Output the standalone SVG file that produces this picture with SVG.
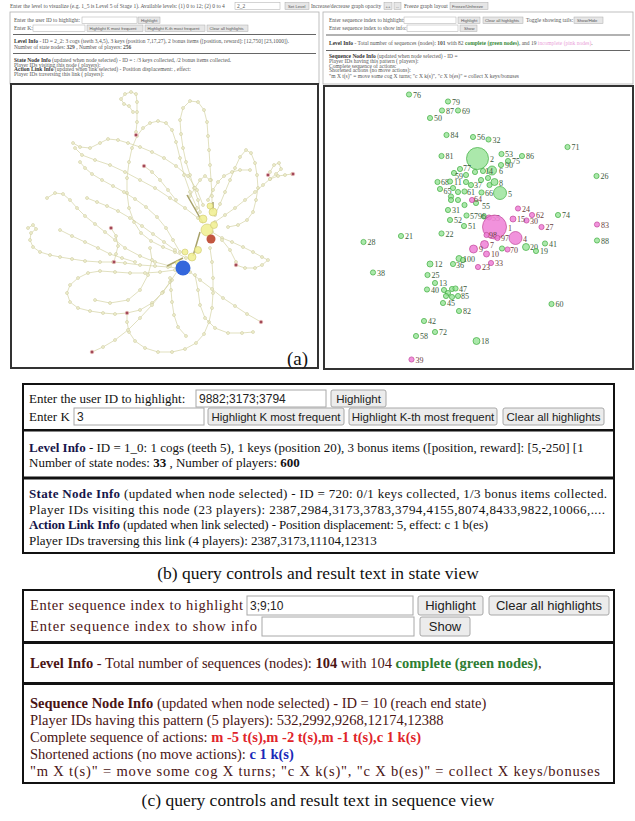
<svg xmlns="http://www.w3.org/2000/svg" width="635" height="821" viewBox="0 0 635 821">
<defs>
<style>
.tp{font-family:"Liberation Serif",serif;font-size:5.5px;fill:#555}
.tpb{font-family:"Liberation Sans",sans-serif;font-size:4.2px;fill:#555}
.b{font-weight:bold}
.ib{fill:#fff;stroke:#aaa;stroke-width:0.5}
.bb{fill:#e6e6e6;stroke:#aaa;stroke-width:0.5}
.pb{font-family:"Liberation Serif",serif;font-size:13px;fill:#111}
.pc{font-family:"Liberation Serif",serif;font-size:14.5px;fill:#4a1414}
.btn{fill:#ececec;stroke:#a8a8a8;stroke-width:1}
.inp{fill:#fff;stroke:#a8a8a8;stroke-width:1}
.bt{font-family:"Liberation Sans",sans-serif;font-size:11.5px;fill:#222;text-anchor:middle}
.bt2{font-family:"Liberation Sans",sans-serif;font-size:13px;fill:#222;text-anchor:middle}
.it{font-family:"Liberation Sans",sans-serif;font-size:12px;fill:#222}
.cap{font-family:"Liberation Serif",serif;font-size:17.5px;fill:#111;text-anchor:middle}
#edgesA polyline{fill:none;stroke:#d4d2a4;stroke-width:0.7;marker-start:url(#dot);marker-mid:url(#dot);marker-end:url(#dot)}
.thick{fill:none;stroke:#a8a26a;stroke-width:1.5}
.rd{fill:#a24858;stroke:#f4c8c8;stroke-width:0.6}
.yn{fill:#f1ef96;stroke:#cfc770;stroke-width:0.6;fill-opacity:0.9}
.g circle{fill:#8fe08f;fill-opacity:0.75;stroke:#3fae3f;stroke-width:0.7}
.p circle{fill:#ef7fd6;fill-opacity:0.85;stroke:#c0489a;stroke-width:0.7}
.g text,.p text{font-family:"Liberation Serif",serif;font-size:8px}
.g text{fill:#3c5a3c}
.p text{fill:#6a4040}
</style>
<marker id="dot" markerWidth="4" markerHeight="4" refX="2" refY="2" markerUnits="userSpaceOnUse" overflow="visible"><circle cx="2" cy="2" r="1.5" fill="#efefce" stroke="#c6c497" stroke-width="0.5"/></marker>
<clipPath id="clipB"><rect x="23" y="384" width="590" height="169"/></clipPath>
<clipPath id="clipC"><rect x="23" y="590" width="590" height="193"/></clipPath>
</defs>
<rect width="635" height="821" fill="#fff"/>

<!-- top strip -->
<g id="topbar">
<text class="tp" x="10" y="7.5">Enter the level to visualize (e.g. 1_5 is Level 5 of Stage 1). Available levels: (1) 0 to 12; (2) 0 to 4</text>
<rect class="ib" x="235" y="2.5" width="45" height="7"/><text class="tp" x="237" y="7.8">2_2</text>
<rect class="bb" x="285" y="2.5" width="24" height="7"/><text class="tpb" x="288" y="7.6">Set Level</text>
<text class="tp" x="311" y="7.5">Increase/decrease graph opacity</text>
<rect class="bb" x="384" y="2.5" width="8" height="7"/><text class="tpb" x="385.5" y="7.6">++</text>
<rect class="bb" x="394" y="2.5" width="7" height="7"/><text class="tpb" x="396" y="7.6">--</text>
<text class="tp" x="404" y="7.5">Freeze graph layout</text>
<rect class="bb" x="450" y="2.5" width="38" height="7"/><text class="tpb" x="452" y="7.6">Freeze/Unfreeze</text>
</g>

<!-- left control panel -->
<g id="ctrlA">
<rect x="10" y="12" width="309" height="72" fill="#fff" stroke="#b0b0b0" stroke-width="0.8"/>
<text class="tp" x="14" y="22">Enter the user ID to highlight:</text>
<rect class="ib" x="82" y="17" width="55" height="6.5"/>
<rect class="bb" x="138" y="17" width="22" height="6.5"/><text class="tpb" x="141" y="21.7">Highlight</text>
<text class="tp" x="14" y="30">Enter K:</text>
<rect class="ib" x="33" y="25" width="52" height="6.5"/>
<rect class="bb" x="87" y="25" width="56" height="6.5"/><text class="tpb" x="89.5" y="29.7">Highlight K most frequent</text>
<rect class="bb" x="145" y="25" width="60" height="6.5"/><text class="tpb" x="147.5" y="29.7">Highlight K-th most frequent</text>
<rect class="bb" x="207" y="25" width="41" height="6.5"/><text class="tpb" x="209.5" y="29.7">Clear all highlights</text>
<rect x="13" y="34" width="303" height="1" fill="#666"/>
<text class="tp" x="14" y="43"><tspan class="b" fill="#333">Level Info</tspan> - ID = 2_2: 3 cogs (teeth 3,4,5), 3 keys (position 7,17,27), 2 bonus items ([position, reward]: [12,750] [23,1000]).</text>
<text class="tp" x="14" y="48.5">Number of state nodes: <tspan class="b">329</tspan> , Number of players: <tspan class="b">256</tspan></text>
<rect x="13" y="53" width="303" height="1" fill="#666"/>
<text class="tp" x="14" y="61.5"><tspan class="b" fill="#333">State Node Info</tspan> (updated when node selected) - ID = : /3 keys collected, /2 bonus items collected.</text>
<text class="tp" x="14" y="66.5">Player IDs visiting this node ( players):</text>
<text class="tp" x="14" y="71"><tspan class="b" fill="#333">Action Link Info</tspan> (updated when link selected) - Position displacement: , effect:</text>
<text class="tp" x="14" y="75.5">Player IDs traversing this link ( players):</text>
</g>

<!-- right control panel -->
<g id="ctrlR">
<rect x="323" y="12" width="310" height="72" fill="#fff" stroke="#b0b0b0" stroke-width="0.8"/>
<text class="tp" x="329" y="22">Enter sequence index to highlight:</text>
<rect class="ib" x="404" y="17" width="52" height="6.5"/>
<rect class="bb" x="458" y="17" width="22" height="6.5"/><text class="tpb" x="461" y="21.7">Highlight</text>
<rect class="bb" x="483" y="17" width="40" height="6.5"/><text class="tpb" x="485" y="21.7">Clear all highlights</text>
<text class="tp" x="526" y="22">Toggle showing tails:</text>
<rect class="bb" x="574" y="17" width="29" height="6.5"/><text class="tpb" x="577" y="21.7">Show/Hide</text>
<text class="tp" x="329" y="30">Enter sequence index to show info:</text>
<rect class="ib" x="407" y="25" width="51" height="6.5"/>
<rect class="bb" x="460" y="25" width="17" height="6.5"/><text class="tpb" x="464" y="29.7">Show</text>
<rect x="326" y="34.5" width="304" height="1" fill="#666"/>
<text class="tp" x="329" y="44.5"><tspan class="b" fill="#333">Level Info</tspan> - Total number of sequences (nodes): <tspan class="b">101</tspan> with 82 <tspan class="b" fill="#3a8a3a">complete (green nodes)</tspan>, and 19 <tspan fill="#eaa0d8">incomplete (pink nodes)</tspan>.</text>
<rect x="326" y="50" width="304" height="1" fill="#666"/>
<text class="tp" x="329" y="58"><tspan class="b" fill="#333">Sequence Node Info</tspan> (updated when node selected) - ID =</text>
<text class="tp" x="329" y="62.8">Player IDs having this pattern ( players):</text>
<text class="tp" x="329" y="67.6">Complete sequence of actions:</text>
<text class="tp" x="329" y="72.4">Shortened actions (no move actions):</text>
<text class="tp" x="329" y="77.5">"m X t(s)" = move some cog X turns; "c X k(s)", "c X b(es)" = collect X keys/bonuses</text>
</g>

<!-- (a) state graph -->
<g id="graphA">
<rect x="11" y="84" width="307" height="284" fill="#fff" stroke="#333" stroke-width="2"/>
<g id="edgesA">
<polyline points="200,212 198,200 194,188 190,175 186,162 183,148 181,134 180,120 183,108 190,101 198,102 204,110 207,122 208,136 209,150 210,165 211,180 212,196 212,210"/>
<polyline points="136,132 137,122 137,112 137,102 136,94 131,92 125,94 121,99 124,104 129,106 133,112"/>
<polyline points="73,143 80,147 90,148 100,143 108,139 118,140 128,143 140,147 152,152 164,158 176,166 188,176 197,190 203,205"/>
<polyline points="75,148 82,155 95,160 110,165 125,172 140,180 155,188 170,198 185,208 198,218"/>
<polyline points="28,228 33,225 36,229 31,233 30,240 33,247 40,252 50,255 60,257 72,259 85,261 100,262 113,262 125,263 140,265 155,266 168,267 178,268"/>
<polyline points="47,198 55,193 63,194 70,200 77,208 85,216 95,224 105,232 115,240 125,248 140,256 155,262 170,266"/>
<polyline points="175,270 160,272 145,273 130,273 115,272 100,271 88,273 78,278 70,285 67,293 70,302 78,308 90,311 103,313 115,314 127,313 140,310 152,303 163,292 172,280"/>
<polyline points="127,313 127,322 129,332 135,341 145,348 158,352 172,352 185,349 196,343 204,334 209,322 212,308 213,293 213,278 212,262 210,248"/>
<polyline points="178,270 170,282 162,293 152,305 140,318 128,330 115,340 103,347 92,352"/>
<polyline points="215,215 220,204 225,192 230,180 235,168 240,157 246,150 251,153 255,163 257,175 258,188 256,200 253,212 247,220 238,225 228,227"/>
<polyline points="215,222 225,215 235,208 245,200 255,192 263,185 270,179 276,174 281,169 279,163 274,165 270,172"/>
<polyline points="270,179 278,176 285,175 292,174"/>
<polyline points="212,232 222,238 232,242 243,247 253,252 262,257 268,260 262,265 255,268 245,268 236,265"/>
<polyline points="190,272 200,280 212,289 223,298 235,306 247,314 261,322"/>
<polyline points="186,258 175,252 163,247 151,241 141,233 134,222 129,208 127,193 127,178 129,162 132,148 137,136 143,128 150,123 158,121 166,123 172,130 176,142 180,158 184,175 190,192 197,208"/>
<polyline points="80,162 85,168 92,174 102,180 113,186 124,192 135,199 146,207 157,217 166,228 173,240 180,252"/>
<polyline points="87,198 97,202 107,206 118,211 130,218 142,226 153,234 164,242 175,250"/>
<polyline points="195,275 198,290 200,305 205,318 215,328 228,333 242,333 253,332"/>
<polyline points="170,278 171,290 172,302 174,315 178,327 186,336"/>
<polyline points="111,228 116,236 118,246 116,254 114,262"/>
<polyline points="144,166 152,172 160,180 168,190 176,200"/>
<polyline points="208,200 213,190 218,182 224,176 232,172 240,170 250,170"/>
<polyline points="190,196 195,188 200,180 205,176 210,180"/>
<polyline points="222,240 230,250 236,262 236,265"/>
<polyline points="60,230 72,236 85,242 98,248 110,254 122,258 135,262"/>
<polyline points="150,248 152,260 148,275 140,290 128,300 110,303 95,300"/>
</g>
<path class="thick" d="M187,195 L203,223 M200,232 L193,256 M167,266 L183,258 M213,210 L213,202"/>
<g id="centerA">
<circle class="yn" cx="207" cy="230" r="6"/>
<circle class="yn" cx="203" cy="219" r="4"/>
<circle class="yn" cx="213" cy="212" r="4"/>
<circle class="yn" cx="214" cy="225" r="3.5"/>
<circle class="yn" cx="210" cy="206" r="3"/>
<circle class="yn" cx="198" cy="250" r="3.5"/>
<circle class="yn" cx="192" cy="257" r="4"/>
<circle class="yn" cx="185" cy="252" r="3"/>
<circle class="yn" cx="178" cy="263" r="2.5"/>
<circle cx="211" cy="239" r="4.5" fill="#c25640"/>
<circle cx="183" cy="268" r="7.5" fill="#3467dc"/>
</g>
<g id="redsA">
<circle class="rd" cx="136" cy="135" r="1.8"/>
<circle class="rd" cx="144" cy="166" r="1.8"/>
<circle class="rd" cx="268" cy="175" r="1.8"/>
<circle class="rd" cx="293" cy="174" r="1.8"/>
<circle class="rd" cx="111" cy="228" r="1.8"/>
<circle class="rd" cx="114" cy="262" r="1.8"/>
<circle class="rd" cx="236" cy="265" r="1.8"/>
<circle class="rd" cx="127" cy="313" r="1.8"/>
<circle class="rd" cx="261" cy="322" r="1.8"/>
<circle class="rd" cx="92" cy="352" r="1.8"/>
</g>
<text x="287" y="365" font-family="Liberation Serif, serif" font-size="19" fill="#111">(a)</text>
</g>

<!-- sequence graph -->
<g id="graphS">
<rect x="324" y="86" width="309" height="283" fill="#fff" stroke="#333" stroke-width="2"/>
<g class="g">
<g id="s76"><circle cx="409" cy="94.5" r="2.6"/><text x="413" y="97.5">76</text></g>
<g id="s79"><circle cx="448" cy="101.5" r="2.6"/><text x="452" y="104.5">79</text></g>
<g id="s87"><circle cx="442" cy="110.5" r="2.6"/><text x="446" y="113.5">87</text></g>
<g id="s69"><circle cx="458" cy="110.5" r="2.6"/><text x="462" y="113.5">69</text></g>
<g id="s50"><circle cx="430" cy="118" r="2.6"/><text x="434" y="121">50</text></g>
<g id="s84"><circle cx="446.5" cy="135" r="2.6"/><text x="450.5" y="138">84</text></g>
<g id="s56"><circle cx="473" cy="137" r="2.6"/><text x="477" y="140">56</text></g>
<g id="s32"><circle cx="488.5" cy="139.5" r="2.6"/><text x="492.5" y="142.5">32</text></g>
<g id="s71"><circle cx="567.5" cy="147" r="2.6"/><text x="571.5" y="150">71</text></g>
<g id="s81"><circle cx="441.5" cy="156" r="2.6"/><text x="445.5" y="159">81</text></g>
<g id="s2"><circle cx="477.5" cy="158.5" r="11"/><text x="490" y="162">2</text></g>
<g id="s53"><circle cx="501.5" cy="154" r="2.6"/><text x="505" y="157">53</text></g>
<g id="s86"><circle cx="522" cy="156" r="2.6"/><text x="526" y="159">86</text></g>
<g id="s75"><circle cx="508" cy="161" r="2.6"/><text x="512" y="164">75</text></g>
<g id="s90"><circle cx="501" cy="165" r="2.6"/><text x="505" y="168">90</text></g>
<g id="s6"><circle cx="492" cy="170.5" r="4.5"/><text x="499" y="174">6</text></g>
<g id="s26"><circle cx="596.5" cy="176" r="2.6"/><text x="600.5" y="179">26</text></g>
<g id="s77"><circle cx="460" cy="169" r="2.6"/><text x="463" y="170.5">77</text></g>
<g id="s59"><circle cx="454" cy="173" r="2.6"/><text x="455" y="178.5">59</text></g>
<g id="s14"><circle cx="483" cy="171" r="2.6"/><text x="485" y="174">14</text></g>
<g id="s3a"><circle cx="475" cy="172" r="2.6"/></g>
<g id="s68"><circle cx="437.5" cy="182" r="2.6"/><text x="441" y="185">68</text></g>
<g id="s11"><circle cx="450" cy="181.5" r="2.6"/><text x="454" y="184.5">11</text></g>
<g id="s65"><circle cx="440" cy="189" r="2.6"/><text x="443.5" y="193.5">65</text></g>
<g id="s3b"><circle cx="466" cy="175" r="2.6"/></g>
<g id="s3c"><circle cx="466" cy="182" r="2.6"/></g>
<g id="s37"><circle cx="471" cy="185" r="2.6"/><text x="474" y="188">37</text></g>
<g id="s3d"><circle cx="481" cy="180" r="2.6"/></g>
<g id="s3e"><circle cx="488" cy="178" r="2.6"/></g>
<g id="s3f"><circle cx="489.5" cy="185" r="2.6"/></g>
<g id="s8"><circle cx="494.5" cy="182" r="3.5"/><text x="499" y="185.5">8</text></g>
<g id="s3g"><circle cx="453" cy="188" r="2.6"/></g>
<g id="s3h"><circle cx="458" cy="192" r="2.6"/></g>
<g id="s61"><circle cx="464.5" cy="191.5" r="2.6"/><text x="467" y="194.5">61</text></g>
<g id="s3i"><circle cx="451" cy="196.5" r="2.6"/></g>
<g id="s3j"><circle cx="458" cy="200" r="2.6"/></g>
<g id="s3k"><circle cx="451" cy="200" r="2.6"/></g>
<g id="s3l"><circle cx="464.5" cy="205" r="2.6"/></g>
<g id="s66"><circle cx="481.5" cy="192.5" r="2.6"/><text x="485" y="195.5">66</text></g>
<g id="s5"><circle cx="500" cy="193" r="6.5"/><text x="508" y="196.5">5</text></g>
<g id="s55g"><circle cx="476" cy="203" r="2.6"/><text x="482" y="208.5">55</text></g>
<g id="s31"><circle cx="448" cy="210" r="2.6"/><text x="452" y="213">31</text></g>
<g id="s52"><circle cx="450" cy="220" r="2.6"/><text x="454" y="223">52</text></g>
<g id="s57"><circle cx="466.5" cy="215.5" r="2.6"/><text x="470" y="218.5">57</text></g>
<g id="s96"><circle cx="484" cy="216.5" r="2.6"/><text x="478" y="218.5">96</text></g>
<g id="s51"><circle cx="464" cy="226" r="2.6"/><text x="468" y="229">51</text></g>
<g id="s22"><circle cx="441.5" cy="233.5" r="2.6"/><text x="445.5" y="236.5">22</text></g>
<g id="s21"><circle cx="401" cy="236" r="2.6"/><text x="405" y="239">21</text></g>
<g id="s28"><circle cx="363.5" cy="242" r="2.6"/><text x="367.5" y="245">28</text></g>
<g id="s38"><circle cx="373" cy="272.5" r="2.6"/><text x="377" y="275.5">38</text></g>
<g id="s74"><circle cx="558" cy="215" r="2.6"/><text x="562" y="218">74</text></g>
<g id="s88"><circle cx="597" cy="240.5" r="2.6"/><text x="601" y="243.5">88</text></g>
<g id="s41"><circle cx="545" cy="243.5" r="2.6"/><text x="549" y="246.5">41</text></g>
<g id="s20"><circle cx="526" cy="247" r="3.5"/><text x="530" y="250">20</text></g>
<g id="s19"><circle cx="536" cy="251" r="2.6"/><text x="540" y="254">19</text></g>
<g id="s70g"><circle cx="502" cy="248.5" r="2.6"/></g>
<g id="s100"><circle cx="459" cy="258.5" r="3"/><circle cx="463" cy="260" r="2.6"/><text x="463" y="262">100</text></g>
<g id="s36"><circle cx="453" cy="264" r="2.6"/><text x="456" y="268">36</text></g>
<g id="s12"><circle cx="430" cy="264" r="3"/><text x="434.5" y="267">12</text></g>
<g id="s25"><circle cx="427.5" cy="275" r="2.6"/><text x="431.5" y="278">25</text></g>
<g id="s13"><circle cx="435" cy="283" r="2.6"/><text x="439" y="286">13</text></g>
<g id="s40"><circle cx="427" cy="289.5" r="2.6"/><text x="431" y="292.5">40</text></g>
<g id="s47"><circle cx="444" cy="290" r="2.6"/><circle cx="448" cy="293" r="2.6"/><circle cx="452" cy="289" r="2.6"/><circle cx="455.5" cy="288.5" r="2.6"/><circle cx="446" cy="296" r="2.6"/><circle cx="452" cy="297" r="2.6"/><text x="459" y="291.5">47</text></g>
<g id="s85"><circle cx="458" cy="296" r="2.6"/><text x="461" y="299">85</text></g>
<g id="s45"><circle cx="443" cy="303" r="2.6"/><text x="447" y="306">45</text></g>
<g id="s82"><circle cx="459" cy="311" r="2.6"/><text x="463" y="314">82</text></g>
<g id="s60"><circle cx="551.5" cy="304" r="2.6"/><text x="555.5" y="307">60</text></g>
<g id="s42"><circle cx="424" cy="321" r="2.6"/><text x="428" y="324">42</text></g>
<g id="s72"><circle cx="435" cy="332" r="2.6"/><text x="439" y="335">72</text></g>
<g id="s58"><circle cx="416" cy="336" r="2.6"/><text x="420" y="339">58</text></g>
<g id="s18"><circle cx="476.5" cy="341" r="3.5"/><text x="481" y="344">18</text></g>
</g>
<g class="p">
<g id="s64"><circle cx="472" cy="200" r="2.6"/><text x="474" y="202">64</text></g>
<g id="s24"><circle cx="518" cy="208.5" r="2.6"/><text x="522" y="211.5">24</text></g>
<g id="s62"><circle cx="532" cy="215" r="2.6"/><text x="536" y="218">62</text></g>
<g id="s30"><circle cx="526.5" cy="220.5" r="2.6"/><text x="530" y="223.5">30</text></g>
<g id="s15"><circle cx="513" cy="219" r="3"/><text x="517" y="222">15</text></g>
<g id="s27"><circle cx="541.5" cy="227" r="2.6"/><text x="545.5" y="230">27</text></g>
<g id="s83"><circle cx="597" cy="224.5" r="2.6"/><text x="601" y="227.5">83</text></g>
<g id="s55"><circle cx="489" cy="217.5" r="2.6"/><text x="492" y="220.5">55</text></g>
<g id="s1"><circle cx="494.5" cy="227" r="12"/><text x="508" y="231">1</text></g>
<g id="s98"><circle cx="486.5" cy="235" r="2.6"/><text x="489" y="238">98</text></g>
<g id="s97"><circle cx="497.5" cy="238" r="2.6"/><text x="501" y="241">97</text></g>
<g id="s4"><circle cx="515.5" cy="238" r="6.5"/><text x="523" y="242">4</text></g>
<g id="s7"><circle cx="484.5" cy="244.5" r="4"/><text x="490" y="247.5">7</text></g>
<g id="s9"><circle cx="473.5" cy="249" r="4"/><text x="479" y="252">9</text></g>
<g id="s10"><circle cx="486.5" cy="254" r="3"/><text x="491" y="257">10</text></g>
<g id="s70"><circle cx="507.5" cy="249.5" r="2.6"/><text x="510" y="252.5">70</text></g>
<g id="s33"><circle cx="491" cy="263" r="2.6"/><text x="495" y="266">33</text></g>
<g id="s23"><circle cx="478" cy="267" r="2.6"/><text x="482" y="270">23</text></g>
<g id="s39"><circle cx="411.5" cy="359.5" r="2.6"/><text x="415.5" y="362.5">39</text></g>
</g>
</g>

<!-- panel (b) -->
<g id="panelB">
<rect x="23" y="384" width="591" height="169" fill="#fff" stroke="#111" stroke-width="2"/>
<text class="pb" x="29" y="403">Enter the user ID to highlight:</text>
<rect class="inp" x="196" y="390" width="130" height="17"/><text class="it" x="199" y="402.5">9882;3173;3794</text>
<rect class="btn" x="331" y="390" width="55" height="17" rx="2"/><text class="bt" x="358.5" y="402.5">Highlight</text>
<text class="pb" x="29" y="420.5">Enter K</text>
<rect class="inp" x="74" y="408" width="130" height="17"/><text class="it" x="77" y="420.5">3</text>
<rect class="btn" x="208" y="408" width="136" height="17" rx="2"/><text class="bt" x="276" y="420.5">Highlight K most frequent</text>
<rect class="btn" x="349" y="408" width="148" height="17" rx="2"/><text class="bt" x="423" y="420.5">Highlight K-th most frequent</text>
<rect class="btn" x="503" y="408" width="101" height="17" rx="2"/><text class="bt" x="553.5" y="420.5">Clear all highlights</text>
<rect x="23" y="429" width="591" height="2.5" fill="#111"/>
<g clip-path="url(#clipB)">
<text class="pb" x="29" y="451.5"><tspan class="b" fill="#16164a">Level Info</tspan> - ID = 1_0: 1 cogs (teeth 5), 1 keys (position 20), 3 bonus items ([position, reward]: [5,-250] [1</text>
</g>
<text class="pb" x="29" y="467">Number of state nodes: <tspan class="b">33</tspan> , Number of players: <tspan class="b">600</tspan></text>
<rect x="23" y="476.5" width="591" height="3" fill="#111"/>
<text class="pb" x="29" y="498" textLength="578" lengthAdjust="spacing"><tspan class="b" fill="#16164a">State Node Info</tspan> (updated when node selected) - ID = 720: 0/1 keys collected, 1/3 bonus items collected.</text>
<text class="pb" x="29" y="513.5" textLength="576" lengthAdjust="spacing">Player IDs visiting this node (23 players): 2387,2984,3173,3783,3794,4155,8074,8433,9822,10066,....</text>
<text class="pb" x="29" y="529" textLength="459" lengthAdjust="spacing"><tspan class="b" fill="#16164a">Action Link Info</tspan> (updated when link selected) - Position displacement: 5, effect: c 1 b(es)</text>
<text class="pb" x="29" y="544.5">Player IDs traversing this link (4 players): 2387,3173,11104,12313</text>
</g>
<text class="cap" x="318" y="579">(b) query controls and result text in state view</text>

<!-- panel (c) -->
<g id="panelC">
<rect x="23" y="590" width="591" height="193" fill="#fff" stroke="#111" stroke-width="2"/>
<text class="pc" x="30" y="610" font-size="15.5" textLength="213" lengthAdjust="spacing">Enter sequence index to highlight</text>
<rect class="inp" x="247" y="596" width="166" height="19"/><text class="it" x="250" y="609.5" font-size="13">3;9;10</text>
<rect class="btn" x="418" y="596" width="65" height="19" rx="2"/><text class="bt2" x="450.5" y="610">Highlight</text>
<rect class="btn" x="489" y="596" width="120" height="19" rx="2"/><text class="bt2" x="549" y="610">Clear all highlights</text>
<text class="pc" x="30" y="631" font-size="15.5" textLength="227" lengthAdjust="spacing">Enter sequence index to show info</text>
<rect class="inp" x="262" y="617" width="152" height="19"/>
<rect class="btn" x="420" y="617" width="50" height="19" rx="2"/><text class="bt2" x="445" y="631">Show</text>
<rect x="23" y="641" width="591" height="3" fill="#111"/>
<g clip-path="url(#clipC)">
<text class="pc" x="30" y="668" font-size="15"><tspan class="b">Level Info</tspan> - Total number of sequences (nodes): <tspan class="b">104</tspan> with 104 <tspan class="b" fill="#2e7d32">complete (green nodes)</tspan>,</text>
</g>
<rect x="23" y="682" width="591" height="3" fill="#111"/>
<text class="pc" x="30" y="708"><tspan class="b">Sequence Node Info</tspan> (updated when node selected) - ID = 10 (reach end state)</text>
<text class="pc" x="30" y="725">Player IDs having this pattern (5 players): 532,2992,9268,12174,12388</text>
<text class="pc" x="30" y="742">Complete sequence of actions: <tspan class="b" fill="#e0242a">m -5 t(s),m -2 t(s),m -1 t(s),c 1 k(s)</tspan></text>
<text class="pc" x="30" y="759">Shortened actions (no move actions): <tspan class="b" fill="#1a2ab8">c 1 k(s)</tspan></text>
<text class="pc" x="30" y="776" textLength="570" lengthAdjust="spacing">"m X t(s)" = move some cog X turns; "c X k(s)", "c X b(es)" = collect X keys/bonuses</text>
</g>
<text class="cap" x="318" y="806">(c) query controls and result text in sequence view</text>
</svg>
